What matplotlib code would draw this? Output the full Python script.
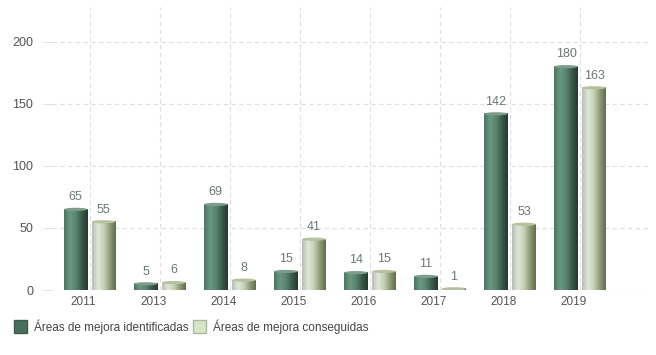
import matplotlib
matplotlib.use("Agg")
import matplotlib.pyplot as plt
import matplotlib.transforms as mtransforms
from matplotlib.colors import LinearSegmentedColormap
from matplotlib.patches import Ellipse, Patch
import numpy as np

plt.rcParams["font.family"] = ["Liberation Sans", "DejaVu Sans"]

years = ["2011", "2013", "2014", "2015", "2016", "2017", "2018", "2019"]
identificadas = [65, 5, 69, 15, 14, 11, 142, 180]
conseguidas = [55, 6, 8, 41, 15, 1, 53, 163]
series_names = ["Áreas de mejora identificadas", "Áreas de mejora conseguidas"]

dark_cmap = LinearSegmentedColormap.from_list(
    "dark", ["#4d7462", "#6a9883", "#5a8571", "#3a5a4a", "#253a30"])
light_cmap = LinearSegmentedColormap.from_list(
    "light", ["#b9bdb6", "#dfe8d6", "#c5d1b5", "#8e9c78", "#5f6f4b"])
cap_colors = ["#7e9c8c", "#b4c29e"]

fig = plt.figure(figsize=[6.56, 3.55], dpi=100)
ax = fig.add_axes([0.079, 0.183, 0.912, 0.797])

x = np.arange(len(years))
width = 0.34
offset = 0.2
grad = np.linspace(0, 1, 64).reshape(1, -1)

for vals, cmap, cap, sign in [(identificadas, dark_cmap, cap_colors[0], -1),
                              (conseguidas, light_cmap, cap_colors[1], 1)]:
    bars = ax.bar(x + sign * offset, vals, width, color="none", zorder=3)
    for b, v in zip(bars, vals):
        x0 = b.get_x()
        ax.imshow(grad, cmap=cmap, aspect="auto", zorder=3,
                  extent=[x0, x0 + width, 0, v], interpolation="bilinear")
        ax.add_patch(Ellipse((x0 + width / 2, v), width, 2.6, facecolor=cap,
                             edgecolor="none", zorder=4))
        ax.text(x0 + width / 2, v + 5, str(v), ha="center", va="bottom",
                fontsize=9, color="#6b7774", zorder=5)

ax.set_xlim(-0.54, 8.0)
ax.set_ylim(0, 228)
ax.set_yticks([0, 50, 100, 150, 200])
ax.set_xticks(x)
ax.set_xticklabels(years)
ax.tick_params(axis="x", length=0, pad=4, labelsize=8.5, colors="#555555")
ax.tick_params(axis="y", length=6.5, width=0.6, color="#dddddd", pad=7,
               labelsize=9, colors="#555555")
for lbl in ax.get_xticklabels():
    lbl.set_transform(lbl.get_transform() +
                      mtransforms.ScaledTranslation(-6 / 100, 0, fig.dpi_scale_trans))
ax.grid(True, linestyle=(0, (4, 3)), color="#dddddd", linewidth=0.8, zorder=0)
for s in ax.spines.values():
    s.set_visible(False)

handles = [Patch(facecolor="#4a6e5d", edgecolor="#3a5a4a"),
           Patch(facecolor="#d6e6c6", edgecolor="#aab8a0")]
fig.legend(handles, series_names, loc="lower left", bbox_to_anchor=(0.005, 0.03),
           frameon=False, fontsize=8.5, handlelength=1.1, handleheight=1.3,
           handletextpad=0.6, columnspacing=0.4, ncol=2, labelcolor="#444444")

plt.savefig("out.png", dpi=100)
